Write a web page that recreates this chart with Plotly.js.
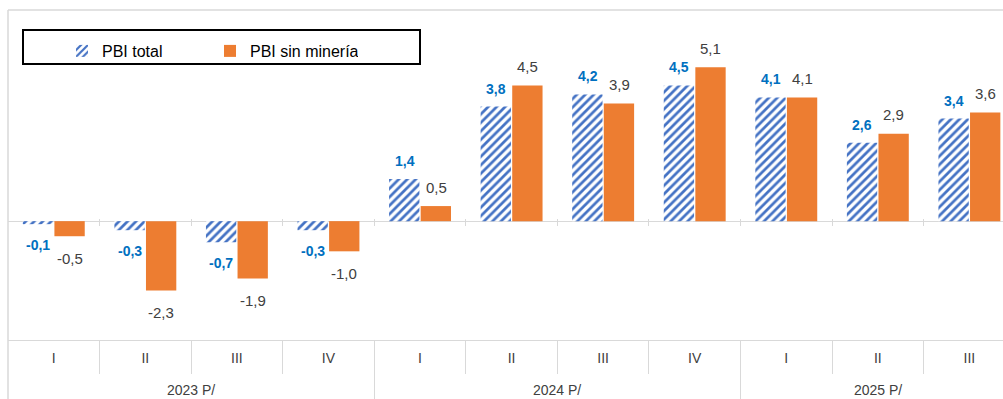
<!DOCTYPE html>
<html><head><meta charset="utf-8">
<script src="https://cdn.plot.ly/plotly-3.0.1.min.js"></script>
<style>html,body{margin:0;padding:0;background:#fff}</style>
</head><body><div id="chart" style="width:1003px;height:399px"></div>
<script>
const years = ['2023 P/','2023 P/','2023 P/','2023 P/','2024 P/','2024 P/','2024 P/','2024 P/','2025 P/','2025 P/','2025 P/'];
const quarters = ['I','II','III','IV','I','II','III','IV','I','II','III'];
const pbiTotal = [-0.1,-0.3,-0.7,-0.3,1.4,3.8,4.2,4.5,4.1,2.6,3.4];
const pbiSinMineria = [-0.5,-2.3,-1.9,-1.0,0.5,4.5,3.9,5.1,4.1,2.9,3.6];
const seriesNames = ['PBI total','PBI sin minería'];

const FONT = '"Liberation Sans", Arial, sans-serif';
const GRID = '#D9D9D9';
const fmt = v => v.toFixed(1).replace('.', ',');
const XR = [-0.5, 10.367];

// derived positions (indices) from the category arrays
const idx = quarters.map((_, i) => i);
const boundaries = idx.slice(1).map(i => i - 0.5);
const yearBoundaries = idx.slice(1).filter(i => years[i] !== years[i-1]).map(i => i - 0.5);
const yearGroups = [];
years.forEach((y, i) => {
  const g = yearGroups.find(o => o.name === y);
  if (g) g.idx.push(i); else yearGroups.push({name: y, idx: [i]});
});

const traces = [
  {type:'bar', name:seriesNames[0], x:[years, quarters], y:pbiTotal,
   marker:{color:'#ffffff', line:{width:0},
     pattern:{shape:'/', fgcolor:'#4472C4', bgcolor:'#ffffff', size:6, solidity:0.45}},
   hoverinfo:'skip'},
  {type:'bar', name:seriesNames[1], x:[years, quarters], y:pbiSinMineria,
   marker:{color:'#ED7D31', line:{width:0}}, hoverinfo:'skip'}
];
['x2','x3','x4','x5'].forEach(ax => traces.push({type:'scatter', x:[0], y:[0], xaxis:ax, yaxis:'y',
  mode:'none', showlegend:false, hoverinfo:'skip'}));

const annotations = [];
pbiTotal.forEach((v,i)=>{
  annotations.push({x:i, y:v, xref:'x', yref:'y', text:'<b>'+fmt(v)+'</b>', showarrow:false,
    xshift:-15.5, yshift: v>=0 ? 18 : -21,
    font:{family:FONT, size:14, color:'#0070C0'}});
});
pbiSinMineria.forEach((v,i)=>{
  annotations.push({x:i, y:v, xref:'x', yref:'y', text:fmt(v), showarrow:false,
    xshift:16, yshift: v>=0 ? 19 : -22,
    font:{family:FONT, size:15, color:'#404040'}});
});
yearGroups.forEach(g => {
  const c = (g.idx[0] + g.idx[g.idx.length-1]) / 2;
  annotations.push({x:c, y:(340-390)/330, xref:'x', yref:'paper', yanchor:'middle', text:g.name,
    showarrow:false, font:{family:FONT, size:14, color:'#404040'}});
});

const layout = {
  width:1003, height:399,
  margin:{l:8, r:0, t:10, b:59, pad:0},
  paper_bgcolor:'#ffffff', plot_bgcolor:'#ffffff',
  font:{family:FONT, color:'#404040'},
  barmode:'group', bargap:0.31, bargroupgap:0.04,
  showlegend:true,
  legend:{orientation:'h', x:(62-8)/995, xanchor:'left', y:(340-34)/330, yanchor:'top',
    bgcolor:'rgba(0,0,0,0)', borderwidth:0, font:{family:FONT, size:16, color:'#000000'},
    entrywidth:103, entrywidthmode:'pixels', itemclick:false},
  xaxis:{type:'multicategory', range:XR, showline:true, linecolor:GRID, linewidth:1,
    ticks:'', showgrid:false, zeroline:false, showticklabels:false, showdividers:false, fixedrange:true},
  // small tick marks crossing the zero line
  xaxis2:{type:'linear', overlaying:'x', anchor:'free', position:(340-217.5)/330, range:XR,
    tickvals:boundaries, ticks:'outside', ticklen:7, tickcolor:GRID, tickwidth:1,
    showticklabels:false, showgrid:false, zeroline:false, showline:false},
  // quarter separators in the label table
  xaxis3:{type:'linear', overlaying:'x', anchor:'free', position:0, range:XR,
    tickvals:boundaries, ticks:'outside', ticklen:33, tickcolor:GRID, tickwidth:1,
    showticklabels:false, showgrid:false, zeroline:false, showline:false},
  // quarter labels
  xaxis4:{type:'linear', overlaying:'x', anchor:'free', position:0, range:XR,
    tickvals:idx, ticktext:quarters, ticks:'', showticklabels:true, ticklabelstandoff:8,
    tickfont:{family:FONT, size:14, color:'#404040'},
    showgrid:false, zeroline:false, showline:false},
  // year separators
  xaxis5:{type:'linear', overlaying:'x', anchor:'free', position:0, range:XR,
    tickvals:yearBoundaries, ticks:'outside', ticklen:62, tickcolor:GRID, tickwidth:1.5,
    showticklabels:false, showgrid:false, zeroline:false, showline:false},
  yaxis:{range:[-3.94, 7.0], showgrid:false, zeroline:true, zerolinecolor:GRID, zerolinewidth:1,
    showticklabels:false, ticks:'', showline:false, fixedrange:true},
  shapes:[
    {type:'line', xref:'paper', yref:'paper', x0:0, x1:0, y0:-0.2, y1:1, line:{color:GRID, width:1.5}},
    {type:'line', xref:'paper', yref:'paper', x0:0, x1:1.01, y0:1, y1:1, line:{color:GRID, width:1.5}},
    {type:'rect', xref:'paper', yref:'paper', x0:(23-8)/995, x1:(420-8)/995, y0:(340-64)/330, y1:(340-30)/330,
     line:{color:'#000000', width:2}, fillcolor:'rgba(0,0,0,0)'}
  ],
  annotations:annotations
};

Plotly.newPlot('chart', traces, layout, {displayModeBar:false, staticPlot:true});
</script>
</body></html>
